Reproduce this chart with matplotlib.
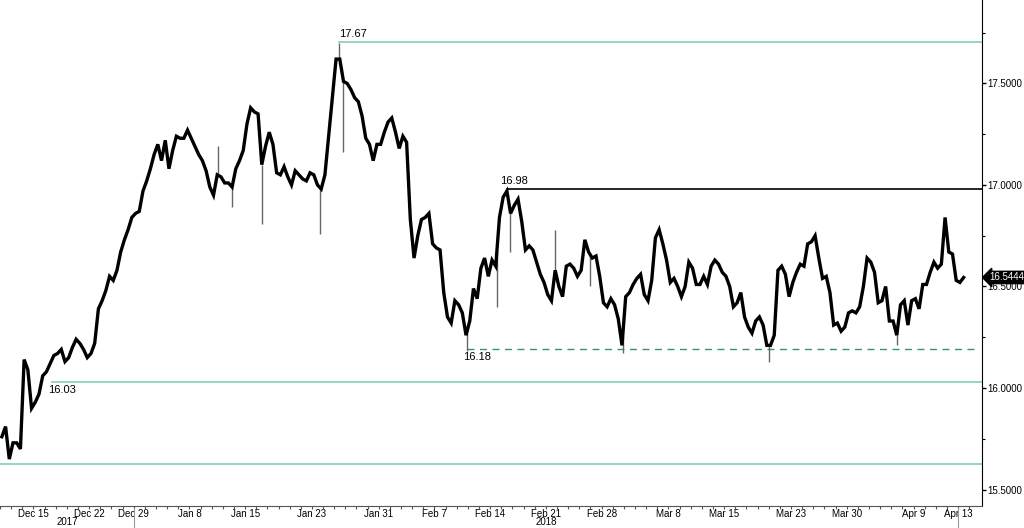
import numpy as np
import matplotlib.pyplot as plt
from matplotlib import transforms

# intraday readings, three per trading session, starting Tue Dec 12 2017
prices = [
    15.76, 15.81, 15.65,  15.73, 15.73, 15.70,  16.14, 16.09, 15.90,   # Dec 12-14
    15.93, 15.97, 16.06,  16.08, 16.12, 16.16,  16.17, 16.19, 16.13,   # Dec 15-19
    16.15, 16.20, 16.24,  16.22, 16.19, 16.15,  16.17, 16.22, 16.39,   # Dec 20-22
    16.43, 16.48, 16.55,  16.53, 16.58, 16.67,  16.73, 16.78, 16.84,   # Dec 26-28
    16.86, 16.87, 16.97,  17.02, 17.08, 17.15,  17.20, 17.12, 17.22,   # Dec 29-Jan 3
    17.08, 17.17, 17.24,  17.23, 17.23, 17.27,  17.23, 17.19, 17.15,   # Jan 4-8
    17.12, 17.07, 16.99,  16.95, 17.05, 17.04,  17.01, 17.01, 16.99,   # Jan 9-11
    17.08, 17.12, 17.17,  17.30, 17.38, 17.36,  17.35, 17.10, 17.19,   # Jan 12-16
    17.26, 17.20, 17.06,  17.05, 17.09, 17.04,  17.00, 17.07, 17.05,   # Jan 17-19
    17.03, 17.02, 17.06,  17.05, 17.00, 16.98,  17.05, 17.24, 17.43,   # Jan 22-24
    17.62, 17.62, 17.51,  17.50, 17.47, 17.43,  17.41, 17.34, 17.23,   # Jan 25-29
    17.20, 17.12, 17.20,  17.20, 17.26, 17.31,  17.33, 17.26, 17.18,   # Jan 30-Feb 1
    17.24, 17.21, 16.83,  16.64, 16.75, 16.83,  16.84, 16.86, 16.71,   # Feb 2-6
    16.69, 16.68, 16.47,  16.35, 16.32, 16.43,  16.41, 16.37, 16.26,   # Feb 7-9
    16.33, 16.49, 16.44,  16.59, 16.64, 16.55,  16.63, 16.60, 16.84,   # Feb 12-14
    16.94, 16.97, 16.86,  16.90, 16.93, 16.82,  16.68, 16.70, 16.68,   # Feb 15-19
    16.62, 16.56, 16.52,  16.46, 16.43, 16.58,  16.50, 16.45, 16.60,   # Feb 20-22
    16.61, 16.59, 16.55,  16.58, 16.73, 16.67,  16.64, 16.65, 16.55,   # Feb 23-27
    16.42, 16.40, 16.44,  16.41, 16.34, 16.21,  16.45, 16.47, 16.51,   # Feb 28-Mar 2
    16.54, 16.56, 16.46,  16.43, 16.53, 16.74,  16.78, 16.71, 16.63,   # Mar 5-7
    16.52, 16.54, 16.50,  16.45, 16.50, 16.62,  16.59, 16.51, 16.51,   # Mar 8-12
    16.55, 16.51, 16.60,  16.63, 16.61, 16.57,  16.55, 16.50, 16.40,   # Mar 13-15
    16.42, 16.47, 16.35,  16.30, 16.27, 16.33,  16.35, 16.31, 16.21,   # Mar 16-20
    16.21, 16.26, 16.58,  16.60, 16.56, 16.45,  16.52, 16.57, 16.61,   # Mar 21-23
    16.60, 16.71, 16.72,  16.75, 16.64, 16.54,  16.55, 16.47, 16.31,   # Mar 26-28
    16.32, 16.28, 16.30,  16.37, 16.38, 16.37,  16.40, 16.50, 16.64,   # Mar 29-Apr 2
    16.62, 16.57, 16.42,  16.43, 16.50, 16.33,  16.33, 16.26, 16.41,   # Apr 3-5
    16.43, 16.31, 16.43,  16.44, 16.39, 16.51,  16.51, 16.57, 16.62,   # Apr 6-10
    16.59, 16.61, 16.84,  16.67, 16.66, 16.53,  16.52, 16.5444,        # Apr 11-13
]
per_session = 3

# long wicks: session position and extreme value
spike_days = [19.6, 20.8, 23.5, 28.7, 30.4, 30.8, 41.9, 44.6, 45.8, 49.8, 53.0, 55.9, 69.0, 80.5]
spike_vals = [17.19, 16.89, 16.81, 16.76, 17.70, 17.16, 16.18, 16.40, 16.67, 16.78, 16.50, 16.17, 16.13, 16.21]

# horizontal levels: value, label, start session, end session
level_vals = [17.705, 16.98, 16.19, 16.03, 15.627]
level_text = ["17.67", "16.98", "16.18", "16.03", ""]
level_start = [30.4, 45.5, 41.9, 4.7, 0.0]
level_end = [88.2, 88.2, 87.5, 88.2, 88.2]

tick_days = [3, 8, 12, 17, 22, 28, 34, 39, 44, 49, 54, 60, 65, 71, 76, 82, 86]
tick_labels = ["Dec 15", "Dec 22", "Dec 29", "Jan 8", "Jan 15", "Jan 23", "Jan 31",
               "Feb 7", "Feb 14", "Feb 21", "Feb 28", "Mar 8", "Mar 15", "Mar 23",
               "Mar 30", "Apr 9", "Apr 13"]
year_breaks = [0, 12, 86]
year_labels = ["2017", "2018"]

teal = "#8fd3b6"
dark_teal = "#3a9179"

plt.rcParams['font.family'] = ['Liberation Sans', 'DejaVu Sans']
fig = plt.figure(figsize=(10.24, 5.28), dpi=100)
ax = fig.add_axes([0.0, 0.0417, 0.959, 0.9583])

t = (np.arange(len(prices)) + 0.5) / per_session
ax.plot(t, prices, color="black", lw=2.4, solid_joinstyle="miter", zorder=3)
base = np.interp(spike_days, t, prices)
ax.vlines(spike_days, np.minimum(base, spike_vals), np.maximum(base, spike_vals),
          color="#666666", lw=1.0, zorder=2)

for v, lab, s, e in zip(level_vals, level_text, level_start, level_end):
    if lab == "16.98":
        ax.plot([s, e], [v, v], color="black", lw=1.2, zorder=1)
    elif lab == "16.18":
        ax.plot([s, e], [v, v], color=dark_teal, lw=1.0, ls=(0, (5, 4)), zorder=1)
    else:
        ax.plot([s, e], [v, v], color=teal, lw=1.3, zorder=1)
    if lab in ("17.67", "16.98"):
        ax.annotate(lab, (s, v), xytext=(-5 if lab == "16.98" else 0, 2),
                    textcoords="offset points", fontsize=8, va="bottom", ha="left")
    elif lab:
        ax.annotate(lab, (s, v), xytext=(-3, -2), textcoords="offset points",
                    fontsize=8, va="top", ha="left")

ax.set_xlim(0, 88.15)
ax.set_ylim(15.419, 17.911)

ax.spines["left"].set_visible(False)
ax.spines["top"].set_visible(False)
ax.spines["right"].set_color("black")
ax.spines["bottom"].set_color("#555555")

ax.yaxis.tick_right()
ax.set_yticks([15.5, 16.0, 16.5, 17.0, 17.5])
ax.set_yticklabels([f"{v:.4f}" for v in [15.5, 16.0, 16.5, 17.0, 17.5]])
ax.set_yticks([15.75, 16.25, 16.75, 17.25, 17.75], minor=True)
ax.tick_params(axis="y", which="major", length=3, width=1, labelsize=7, pad=1)
ax.tick_params(axis="y", which="minor", length=2, width=0.8)

ax.set_xticks(tick_days)
ax.set_xticklabels(tick_labels)
ax.set_xticks(np.arange(0, 88), minor=True)
ax.tick_params(axis="x", which="major", length=2, width=0.8, labelsize=7, pad=0, color="#555555")
ax.tick_params(axis="x", which="minor", length=2, width=0.8, color="#555555")

trans = transforms.blended_transform_factory(ax.transData, ax.transAxes)
for b in year_breaks[1:]:
    ax.plot([b, b], [-0.004, -0.045], color="#999999", lw=0.8, transform=trans, clip_on=False)
for i, lab in enumerate(year_labels):
    mid = (year_breaks[i] + year_breaks[i + 1]) / 2
    ax.text(mid, -0.0316, lab, transform=trans, ha="center", va="center", fontsize=7)

ax.annotate(f"{prices[-1]:.4f}", xy=(1.0, prices[-1]), xycoords=("axes fraction", "data"),
            xytext=(5, 0), textcoords="offset points", fontsize=7, color="white",
            va="center", ha="left", annotation_clip=False,
            bbox=dict(boxstyle="larrow,pad=0.12", fc="black", ec="black"))

fig.savefig("out.png", dpi=100)
